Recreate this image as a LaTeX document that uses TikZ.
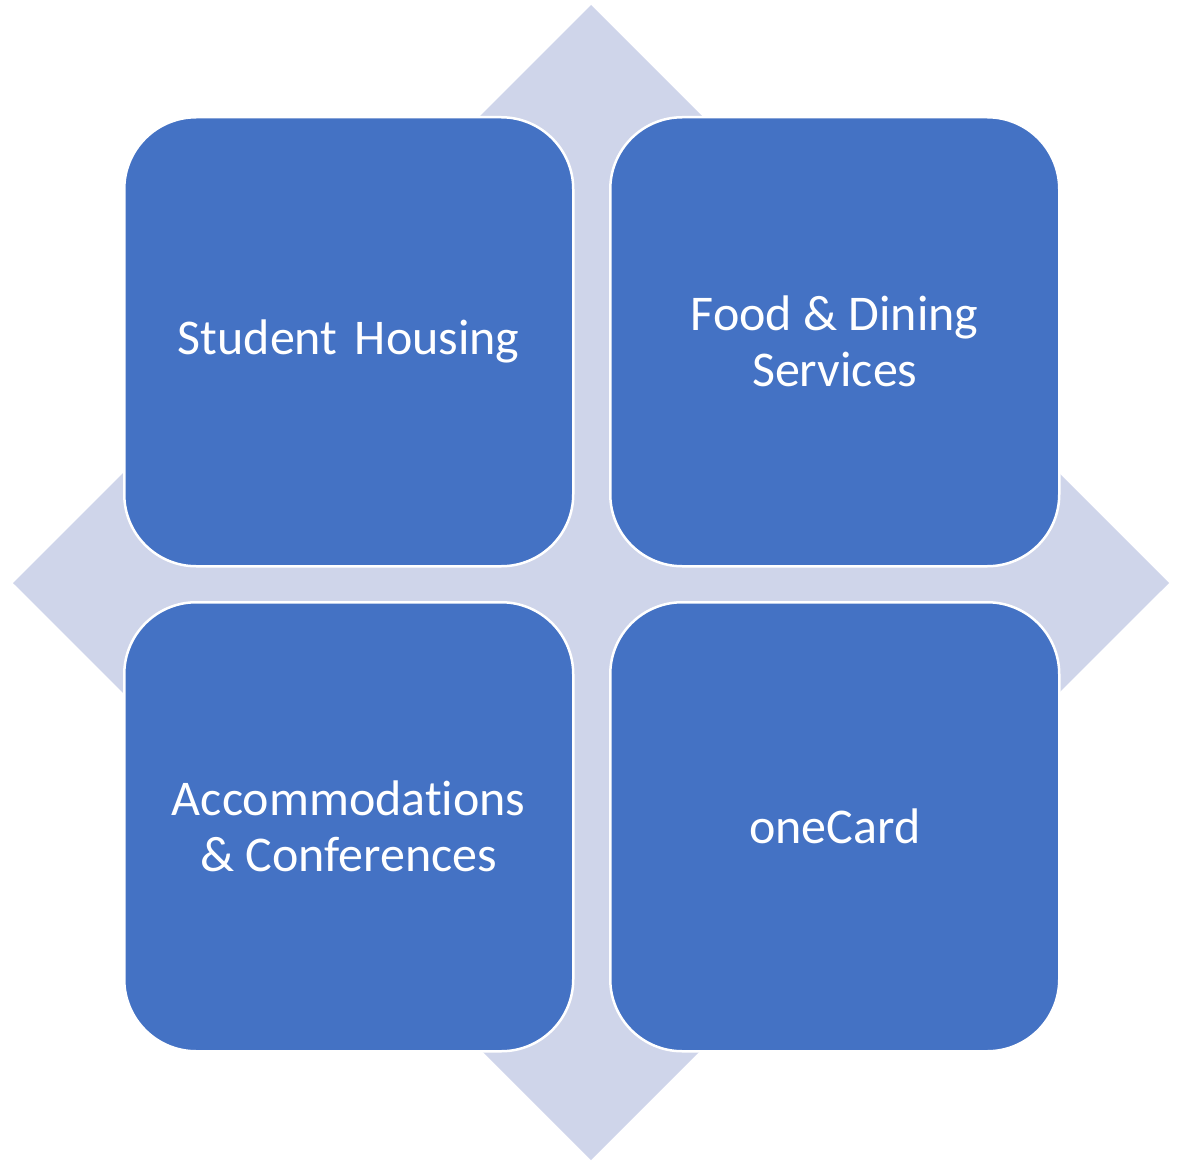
\documentclass[tikz,border=0pt]{standalone}
\usepackage{fontspec}
\setmainfont{Carlito}[Ligatures=NoCommon]
\definecolor{boxblue}{HTML}{4472C4}
\definecolor{diamondfill}{HTML}{CFD5EA}
\begin{document}
\begin{tikzpicture}[x=1pt,y=-1pt,
  tile/.style={draw=white, line width=2.5pt, fill=boxblue, rounded corners=72pt,
    minimum width=449pt, minimum height=449pt, inner sep=0pt, anchor=north west,
    text=white, font=\fontsize{50}{56}\selectfont, align=center}]
\useasboundingbox (0,0) rectangle (1184,1161);
\fill[diamondfill] (591,5) -- (1169,583) -- (591,1160) -- (13,583) -- cycle;
\node[tile] (sh) at (123,116) {Student\hspace{0.35em}Housing};
\node[tile] (fd) at (609,116) {Food \& Dining\\Services};
\node[tile] (ac) at (123,601) {Accommodations\\\& Conferences};
\node[tile] (oc) at (609,601) {oneCard};
\end{tikzpicture}
\end{document}
